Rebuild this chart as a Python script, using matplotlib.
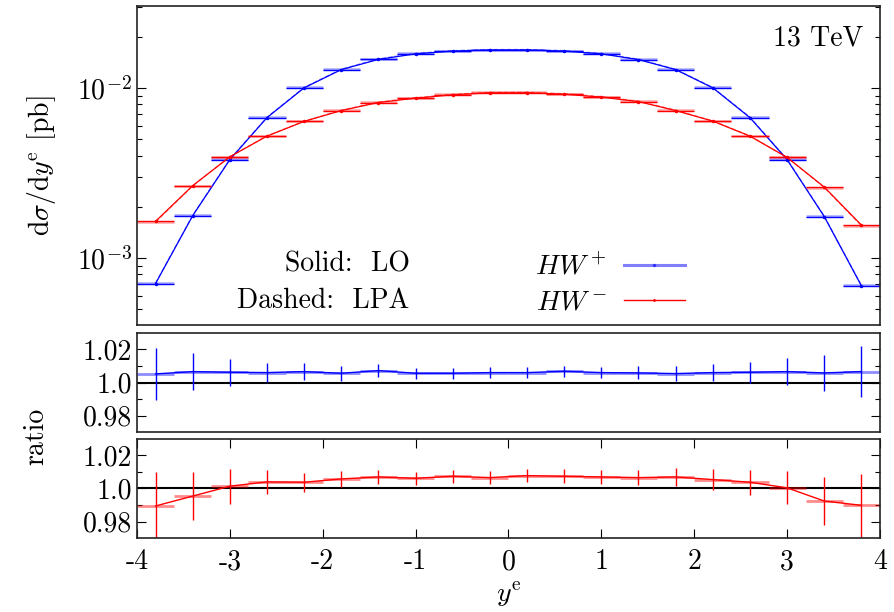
import matplotlib
matplotlib.use('Agg')
import matplotlib.pyplot as plt
import numpy as np
from matplotlib.lines import Line2D
from matplotlib.ticker import FixedLocator, LogLocator, NullFormatter

plt.rcParams['font.family'] = 'cmr10'
plt.rcParams['mathtext.fontset'] = 'cm'
plt.rcParams['axes.formatter.use_mathtext'] = True
plt.rcParams['font.size'] = 20

# bin centres in electron rapidity, width 0.4
y_e = [-3.8, -3.4, -3.0, -2.6, -2.2, -1.8, -1.4, -1.0, -0.6, -0.2,
       0.2, 0.6, 1.0, 1.4, 1.8, 2.2, 2.6, 3.0, 3.4, 3.8]
bin_half = 0.2

# LO cross sections [pb]
hwp_lo = [7.06e-4, 1.77e-3, 3.78e-3, 6.68e-3, 1.00e-2, 1.28e-2, 1.47e-2, 1.585e-2, 1.645e-2, 1.67e-2,
          1.67e-2, 1.645e-2, 1.585e-2, 1.466e-2, 1.28e-2, 1.00e-2, 6.68e-3, 3.78e-3, 1.75e-3, 6.85e-4]
hwm_lo = [1.64e-3, 2.66e-3, 3.93e-3, 5.2e-3, 6.35e-3, 7.35e-3, 8.2e-3, 8.7e-3, 9.1e-3, 9.35e-3,
          9.35e-3, 9.18e-3, 8.82e-3, 8.3e-3, 7.35e-3, 6.37e-3, 5.2e-3, 3.9e-3, 2.61e-3, 1.56e-3]

# LPA / LO ratios and their errors
hwp_ratio = [1.0052, 1.0066, 1.0062, 1.0060, 1.0066, 1.0056, 1.0072, 1.0056, 1.0056, 1.0060,
             1.0060, 1.0068, 1.0060, 1.0058, 1.0054, 1.0060, 1.0062, 1.0066, 1.0058, 1.0066]
hwp_ratio_err = [0.0159, 0.0112, 0.0083, 0.0059, 0.0052, 0.0045, 0.0040, 0.0034, 0.0034, 0.0033,
                 0.0033, 0.0034, 0.0035, 0.0039, 0.0046, 0.0053, 0.0064, 0.0083, 0.0111, 0.0156]
hwm_ratio = [0.9894, 0.9954, 1.0014, 1.0040, 1.0038, 1.0058, 1.0070, 1.0062, 1.0074, 1.0066,
             1.0078, 1.0074, 1.0070, 1.0066, 1.0070, 1.0054, 1.0038, 1.0004, 0.9924, 0.9898]
hwm_ratio_err = [0.0204, 0.0147, 0.0106, 0.0075, 0.0058, 0.0049, 0.0045, 0.0039, 0.0040, 0.0040,
                 0.0040, 0.0042, 0.0043, 0.0046, 0.0054, 0.0062, 0.0077, 0.0100, 0.0148, 0.0192]

x = np.array(y_e)
xerr = np.full(len(x), bin_half)

fig = plt.figure(figsize=(8.94, 6.12), dpi=100)
ax = fig.add_axes([0.1532, 0.4690, 0.8311, 0.5212])
ax_r1 = fig.add_axes([0.1532, 0.2941, 0.8311, 0.1618])
ax_r2 = fig.add_axes([0.1532, 0.1209, 0.8311, 0.1618])

series = [(hwp_lo, hwp_ratio, hwp_ratio_err, 'blue', ax_r1),
          (hwm_lo, hwm_ratio, hwm_ratio_err, 'red', ax_r2)]

for lo, ratio, rerr, col, axr in series:
    lo = np.array(lo)
    lpa = lo * np.array(ratio)
    # main panel: LO solid, LPA dashed
    ax.plot(x, lo, color=col, lw=0.9, marker='.', ms=3)
    ax.errorbar(x, lo, xerr=xerr, fmt='none', ecolor=col, elinewidth=1.0)
    ax.plot(x, lpa, color=col, lw=0.9, ls='--', alpha=0.5)
    ax.errorbar(x, lpa, xerr=xerr, fmt='none', ecolor=col, elinewidth=1.8, alpha=0.35)
    # ratio panel
    axr.axhline(1.0, color='black', lw=1.5, zorder=1)
    axr.plot(x, ratio, color=col, lw=1.0)
    axr.errorbar(x, ratio, xerr=xerr, fmt='none', ecolor=col, elinewidth=2.0, alpha=0.45)
    axr.errorbar(x, ratio, yerr=rerr, fmt='none', ecolor=col, elinewidth=1.0)

for a in (ax, ax_r1, ax_r2):
    a.set_xlim(-4, 4)
    for s in a.spines.values():
        s.set_linewidth(1.2)
        s.set_color('#222222')
    a.tick_params(which='both', direction='in', right=True, left=True, labelsize=20)
    a.tick_params(which='major', length=6.5, width=0.8)
    a.tick_params(which='minor', length=3.5, width=0.8)

ax.set_yscale('log')
ax.set_ylim(4.03e-4, 3.03e-2)
ax.yaxis.set_major_locator(LogLocator(base=10, numticks=10))
ax.yaxis.set_minor_locator(LogLocator(base=10, subs=np.arange(2, 10), numticks=20))
ax.yaxis.set_minor_formatter(NullFormatter())
ax.set_xticks([])
ax.set_ylabel(r'd$\sigma$/d$y^{\mathrm{e}}$ [pb]', labelpad=14)

for axr in (ax_r1, ax_r2):
    axr.set_ylim(0.97, 1.03)
    axr.set_yticks([0.98, 1.0, 1.02])
    axr.set_yticklabels(['0.98', '1.0', '1.02'])
    axr.yaxis.set_minor_locator(FixedLocator([0.99, 1.01]))

ax_r1.set_xticks([])
ax_r2.set_xticks([-4, -3, -2, -1, 0, 1, 2, 3, 4])
ax_r2.set_xticklabels(['-4', '-3', '-2', '-1', '0', '1', '2', '3', '4'])
ax_r2.tick_params(axis='x', top=True, bottom=True, pad=8)
ax_r2.set_xlabel(r'$y^{\mathrm{e}}$', labelpad=3)

fig.text(0.04, 0.287, 'ratio', rotation=90, ha='center', va='center', fontsize=20)

ax.text(0.978, 0.90, '13 TeV', transform=ax.transAxes, ha='right', va='center', fontsize=20)
ax.text(0.367, 0.19, 'Solid:  LO', transform=ax.transAxes, ha='right', va='center', fontsize=20)
ax.text(0.367, 0.075, 'Dashed:  LPA', transform=ax.transAxes, ha='right', va='center', fontsize=20)

handles = [Line2D([], [], color='blue', lw=2.2, alpha=0.5, marker='.', ms=3, mfc='blue', mec='blue'),
           Line2D([], [], color='red', lw=1.0, marker='.', ms=2)]
ax.legend(handles, [r'$HW^+$', r'$HW^-$'], loc='center', bbox_to_anchor=(0.637, 0.127),
          frameon=False, markerfirst=False, handlelength=2.2, handletextpad=0.6,
          labelspacing=0.3, fontsize=20)

fig.savefig('out.png', dpi=100)
